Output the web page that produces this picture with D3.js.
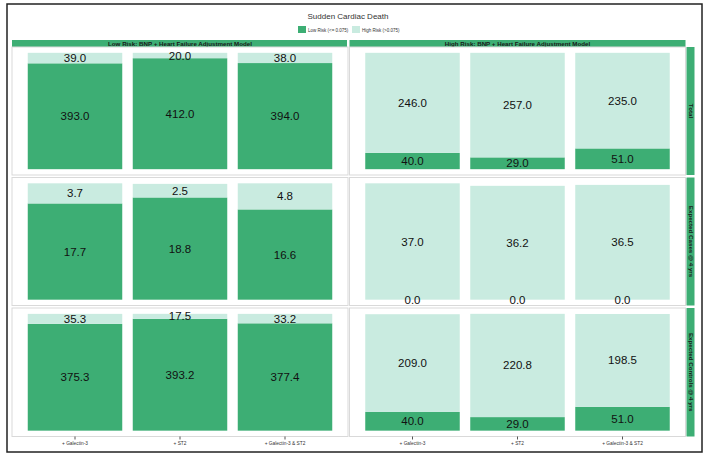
<!DOCTYPE html>
<html><head><meta charset="utf-8">
<script src="https://cdn.jsdelivr.net/npm/d3@7/dist/d3.min.js"></script>
<style>body{margin:0;background:#fff}svg{display:block;font-family:"Liberation Sans",Arial,sans-serif}</style>
</head><body><svg id="c" width="709" height="460"></svg>
<script>
const title = "Sudden Cardiac Death";
const legendLabels = ["Low Risk (<= 0.075)", "High Risk (>0.075)"];
const categories = ["+ Galectin-3", "+ ST2", "+ Galectin-3 & ST2"];
const colLabels = ["Low Risk: BNP + Heart Failure Adjustment Model", "High Risk: BNP + Heart Failure Adjustment Model"];
const rowLabels = ["Total", "Expected Cases @ 4 yrs", "Expected Controls @ 4 yrs"];

// bottom (Low Risk) and top (High Risk) segments per panel
const totalLowModelLow  = [393.0, 412.0, 394.0];
const totalLowModelHigh = [39.0, 20.0, 38.0];
const totalHighModelLow  = [40.0, 29.0, 51.0];
const totalHighModelHigh = [246.0, 257.0, 235.0];
const casesLowModelLow  = [17.7, 18.8, 16.6];
const casesLowModelHigh = [3.7, 2.5, 4.8];
const casesHighModelLow  = [0.0, 0.0, 0.0];
const casesHighModelHigh = [37.0, 36.2, 36.5];
const controlsLowModelLow  = [375.3, 393.2, 377.4];
const controlsLowModelHigh = [35.3, 17.5, 33.2];
const controlsHighModelLow  = [40.0, 29.0, 51.0];
const controlsHighModelHigh = [209.0, 220.8, 198.5];

const panels = [
  [[totalLowModelLow, totalLowModelHigh], [totalHighModelLow, totalHighModelHigh]],
  [[casesLowModelLow, casesLowModelHigh], [casesHighModelLow, casesHighModelHigh]],
  [[controlsLowModelLow, controlsLowModelHigh], [controlsHighModelLow, controlsHighModelHigh]]
];

const dark = "#3dae74", light = "#c9ebe0", stripCol = "#3dae74";
const svg = d3.select("#c");

svg.append("rect").attr("x",7).attr("y",4).attr("width",695).attr("height",448)
  .attr("fill","none").attr("stroke","#222").attr("stroke-width",1.5);

svg.append("text").attr("x",348).attr("y",19).attr("text-anchor","middle")
  .attr("font-size",8).attr("fill","#333").text(title);
const lg = [{c:dark,x:298,t:legendLabels[0]},{c:light,x:352,t:legendLabels[1]}];
lg.forEach(l=>{
  svg.append("rect").attr("x",l.x).attr("y",26).attr("width",8).attr("height",7).attr("fill",l.c);
  svg.append("text").attr("x",l.x+10).attr("y",31.5).attr("font-size",4.5).attr("fill","#333").text(l.t);
});

const colX = [[12,348],[349.5,685.5]];
const rowY = [[47,175],[177.5,305.5],[308,436.5]];

colLabels.forEach((lab,j)=>{
  const [x0,x1]=colX[j];
  svg.append("rect").attr("x",x0).attr("y",40).attr("width",x1-x0-(j===0?1:0)).attr("height",7).attr("fill",stripCol);
  svg.append("text").attr("x",(x0+x1)/2).attr("y",45.8).attr("text-anchor","middle")
    .attr("font-size",6.2).attr("font-weight","bold").attr("fill","#1a1a1a").text(lab);
});
rowLabels.forEach((lab,i)=>{
  const [y0,y1]=rowY[i];
  svg.append("rect").attr("x",686.5).attr("y",y0).attr("width",8).attr("height",y1-y0).attr("fill",stripCol);
  svg.append("text").attr("transform",`translate(688.5,${(y0+y1)/2}) rotate(90)`)
    .attr("text-anchor","middle").attr("font-size",6.2).attr("font-weight","bold").attr("fill","#1a1a1a").text(lab);
});

panels.forEach((row,i)=>{
  row.forEach((pair,j)=>{
    const [x0,x1]=colX[j], [y0,y1]=rowY[i];
    const g = svg.append("g");
    g.append("rect").attr("x",x0).attr("y",y0).attr("width",x1-x0).attr("height",y1-y0)
      .attr("fill","#fff").attr("stroke","#d9d9d9").attr("stroke-width",1);
    const x = d3.scaleBand().domain(categories).range([x0,x1]).paddingInner(0.1).paddingOuter(0.15);
    const [lowV, highV] = pair;
    const M = d3.max(categories.map((c,k)=>lowV[k]+highV[k]));
    const y = d3.scaleLinear().domain([-0.05*M, 1.05*M]).range([y1,y0]);
    categories.forEach((c,k)=>{
      const a=lowV[k], b=highV[k];
      g.append("rect").attr("x",x(c)).attr("width",x.bandwidth())
        .attr("y",y(a)).attr("height",y(0)-y(a)).attr("fill",dark);
      g.append("rect").attr("x",x(c)).attr("width",x.bandwidth())
        .attr("y",y(a+b)).attr("height",y(a)-y(a+b)).attr("fill",light);
      const cx = x(c)+x.bandwidth()/2;
      g.append("text").attr("x",cx).attr("y",y(a/2)).attr("dy","0.35em").attr("text-anchor","middle")
        .attr("font-size",11.5).attr("fill","#111").text(a.toFixed(1));
      g.append("text").attr("x",cx).attr("y",y(a+b/2)).attr("dy","0.35em").attr("text-anchor","middle")
        .attr("font-size",11.5).attr("fill","#111").text(b.toFixed(1));
    });
    if(i===2){
      const ax = svg.append("g").attr("transform",`translate(0,${y1})`)
        .call(d3.axisBottom(x).tickSize(3).tickPadding(2));
      ax.select(".domain").remove();
      ax.selectAll("line").attr("stroke","#555");
      ax.selectAll("text").attr("font-size",4.8).attr("fill","#333").attr("font-family","Liberation Sans, Arial, sans-serif");
    }
  });
});
</script></body></html>
